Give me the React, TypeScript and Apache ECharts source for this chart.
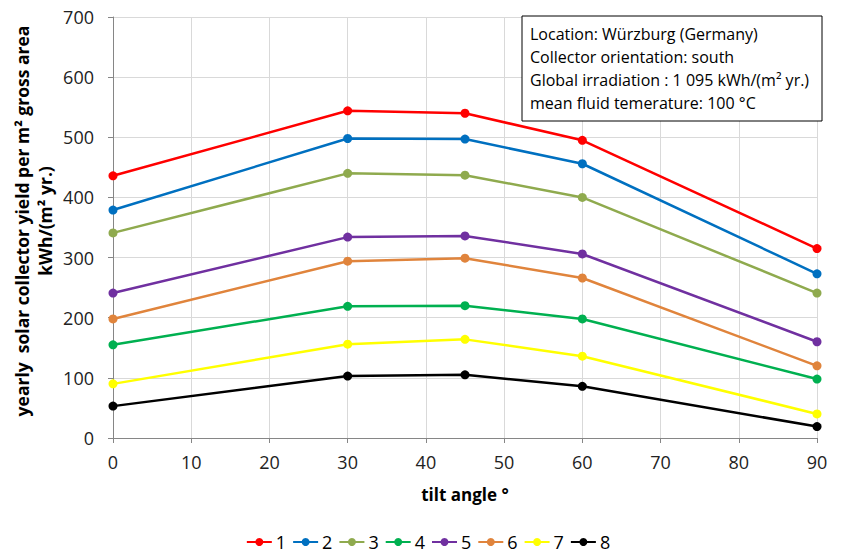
import React, { useEffect, useRef } from "react";
import * as echarts from "echarts";

const tiltAngles = [0, 30, 45, 60, 90];
const seriesNames = ["1", "2", "3", "4", "5", "6", "7", "8"];
const seriesColors = ["#FF0000", "#0070C0", "#8FAA4E", "#00B050", "#7030A0", "#E0843C", "#FFFF00", "#000000"];
const s1 = [436, 544, 540, 495, 315];
const s2 = [379, 498, 497, 456, 273];
const s3 = [341, 440, 437, 400, 241];
const s4 = [155, 219, 220, 198, 98];
const s5 = [241, 334, 336, 306, 160];
const s6 = [198, 294, 299, 266, 120];
const s7 = [90, 156, 164, 136, 40];
const s8 = [53, 103, 105, 86, 19];
const allSeries = [s1, s2, s3, s4, s5, s6, s7, s8];
const infoLines = [
  "Location: Würzburg (Germany)",
  "Collector orientation: south",
  "Global irradiation : 1 095 kWh/(m² yr.)",
  "mean fluid temerature: 100 °C",
];

const FONT = "Open Sans";

export default function App() {
  const ref = useRef<HTMLDivElement>(null);
  useEffect(() => {
    if (!ref.current) return;
    const chart = echarts.init(ref.current, undefined, { renderer: "svg" });
    const series = allSeries.map((vals, i) => ({
      name: seriesNames[i],
      type: "line",
      data: vals.map((v, j) => [tiltAngles[j], v]),
      symbol: "circle",
      symbolSize: 9,
      lineStyle: { color: seriesColors[i], width: 2.5 },
      itemStyle: { color: seriesColors[i] },
    }));
    chart.setOption({
      animation: false,
      backgroundColor: "#fff",
      textStyle: { fontFamily: FONT },
      grid: { left: 113, right: 39, top: 17, bottom: 115 },
      xAxis: {
        type: "value",
        min: 0,
        max: 90,
        interval: 10,
        name: "tilt angle °",
        nameLocation: "middle",
        nameGap: 48,
        nameTextStyle: { fontFamily: FONT, fontWeight: "bold", fontSize: 17, color: "#000" },
        axisLine: { show: true, lineStyle: { color: "#868686", width: 1 } },
        axisTick: { show: true, length: 5, lineStyle: { color: "#868686" } },
        axisLabel: { fontFamily: FONT, fontSize: 18, color: "#222", margin: 15 },
        splitLine: { show: true, lineStyle: { color: "#D9D9D9", width: 1 } },
      },
      yAxis: {
        type: "value",
        min: 0,
        max: 700,
        interval: 100,
        axisLine: { show: true, lineStyle: { color: "#868686", width: 1 } },
        axisTick: { show: true, length: 5, lineStyle: { color: "#868686" } },
        axisLabel: { fontFamily: FONT, fontSize: 18, color: "#222", margin: 19 },
        splitLine: { show: true, lineStyle: { color: "#D9D9D9", width: 1 } },
      },
      legend: {
        top: 528,
        left: "center",
        itemWidth: 25,
        itemHeight: 10,
        itemGap: 6,
        textStyle: { fontFamily: FONT, fontSize: 18, color: "#000", padding: [0, 0, 0, -1] },
        data: seriesNames,
      },
      graphic: [
        {
          type: "text",
          x: 33.5,
          y: 221,
          rotation: Math.PI / 2,
          style: {
            text: "yearly  solar collector yield per m² gross area\nkWh/(m² yr.)",
            fontFamily: FONT,
            fontWeight: "bold",
            fontSize: 17.5,
            lineHeight: 23,
            fill: "#000",
            align: "center",
            verticalAlign: "middle",
          },
        },
        {
          type: "rect",
          shape: { x: 522, y: 16, width: 300, height: 105 },
          style: { fill: "#fff", stroke: "#000", lineWidth: 1 },
          z: 100,
        },
        {
          type: "text",
          x: 530,
          y: 22,
          z: 101,
          style: {
            text: infoLines.join("\n"),
            fontFamily: FONT,
            fontSize: 16,
            lineHeight: 23,
            fill: "#000",
            align: "left",
            verticalAlign: "top",
          },
        },
      ],
      series,
    });
    return () => chart.dispose();
  }, []);
  return <div ref={ref} style={{ width: 856, height: 553, position: "absolute", left: 0, top: 0 }} />;
}
